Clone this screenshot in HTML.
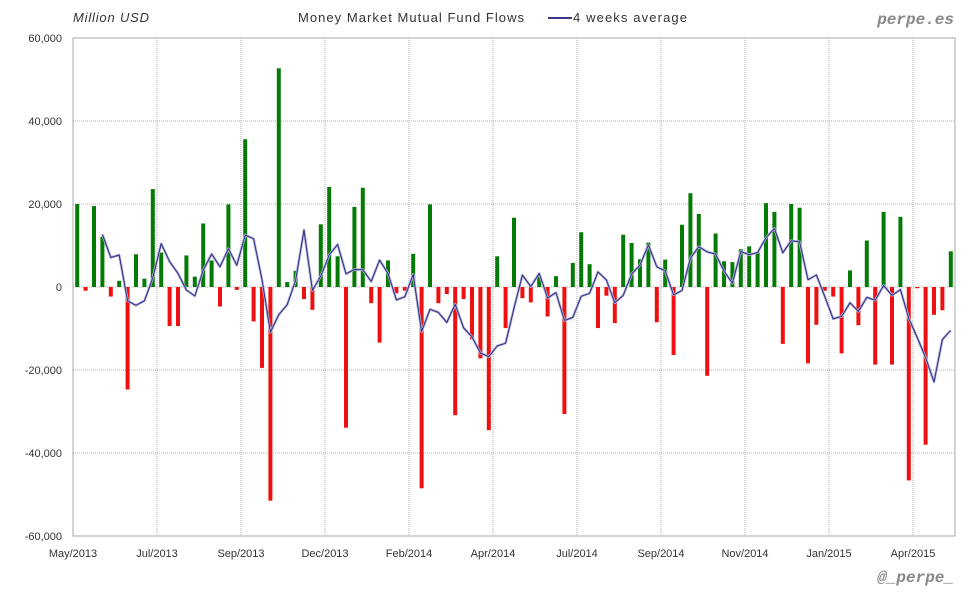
<!DOCTYPE html>
<html><head><meta charset="utf-8">
<style>
html,body{margin:0;padding:0;background:#fff;}
svg text{font-family:"Liberation Sans",sans-serif;}
</style></head>
<body>
<svg id="chart" width="980" height="600" xmlns="http://www.w3.org/2000/svg">
  <rect x="0" y="0" width="980" height="600" fill="#fff"/>
  <text x="73" y="22" font-size="13" font-style="italic" fill="#333" textLength="76">Million USD</text>
  <text x="298" y="22" font-size="13" fill="#333" textLength="226">Money Market Mutual Fund Flows</text>
  <g>
    <line x1="548" y1="18" x2="572" y2="18" stroke="#3a3a8c" stroke-width="2"/>
    <text x="573" y="22" font-size="13" fill="#333" textLength="114">4 weeks average</text>
  </g>
  <text x="954" y="24" text-anchor="end" font-size="16" font-weight="bold" font-style="italic" fill="#888" style="font-family:'Liberation Mono',monospace">perpe.es</text>
  <text x="954" y="582" text-anchor="end" font-size="16" font-weight="bold" font-style="italic" fill="#888" style="font-family:'Liberation Mono',monospace">@_perpe_</text>
  <g id="grid"></g>
  <g id="bars"></g>
  <g id="line"></g>
  <g id="axes"></g>
</svg>
<script>
const categories = Array.from({length:105},(_,i)=>"w"+(i+1));
const flows = [20000,-900,19500,12100,-2300,1500,-24700,7900,2000,23600,
8300,-9400,-9400,7600,2500,15300,6400,-4700,19900,-700,
35600,-8300,-19500,-51500,52700,1200,3900,-2900,-5500,15100,
24100,7400,-33900,19300,23900,-3900,-13400,6400,-1500,-900,
8000,-48500,19900,-3900,-1700,-30900,-2900,-12600,-17200,-34500,
7400,-9900,16700,-2700,-3700,2800,-7100,2600,-30600,5800,
13200,5500,-9900,-2100,-8700,12600,10600,6700,10700,-8500,
6600,-16400,15000,22600,17600,-21400,12900,6200,6000,9100,
9800,8400,20200,18100,-13700,20000,19100,-18400,-9100,-900,
-2300,-16000,4000,-9200,11200,-18700,18100,-18700,16900,-46600,
-300,-38000,-6700,-5600,8600];
const yTicks = [60000,40000,20000,0,-20000,-40000,-60000];
const yTickLabels = ["60,000","40,000","20,000","0","-20,000","-40,000","-60,000"];
const xTickIndex = [0,10,20,30,40,50,60,70,80,90,100];
const xTickLabels = ["May/2013","Jul/2013","Sep/2013","Dec/2013","Feb/2014","Apr/2014","Jul/2014","Sep/2014","Nov/2014","Jan/2015","Apr/2015"];

const NS="http://www.w3.org/2000/svg";
const L=73,R=955,T=38,B=536;
const slot=(R-L)/105;
function y(v){return T+(60000-v)/120000*(B-T);}
function xc(i){return L+slot*i+slot/2;}
function xe(i){return L+slot*i;}
function mk(tag,attrs,parent){const e=document.createElementNS(NS,tag);for(const k in attrs)e.setAttribute(k,attrs[k]);parent.appendChild(e);return e;}

const grid=document.getElementById('grid');
yTicks.forEach((v,k)=>{
  const ln=mk('line',{x1:L,x2:R,y1:y(v),y2:y(v),stroke:'#b0b0b0','stroke-dasharray':'1,1','stroke-width':1},grid);
  
  
  const t=mk('text',{x:62,y:y(v)+4,'text-anchor':'end','font-size':11,fill:'#333'},grid);
  t.textContent=yTickLabels[k];
  
  
});
xTickIndex.forEach((i,k)=>{
  const ln=mk('line',{x1:xe(i),x2:xe(i),y1:T,y2:B,stroke:'#b0b0b0','stroke-dasharray':'1,1','stroke-width':1},grid);
  
  
  const t=mk('text',{x:xe(i),y:557,'text-anchor':'middle','font-size':11,fill:'#333'},grid);
  t.textContent=xTickLabels[k];
  
  
});

const bars=document.getElementById('bars');
flows.forEach((v,i)=>{
  const y0=y(0),y1=y(v);
  const r=mk('rect',{x:xc(i)-2,y:Math.min(y0,y1),width:4,height:Math.max(1,Math.abs(y1-y0)),fill:v>=0?'#067a06':'#ee1111'},bars);
  
  
});

const avg=[];
for(let i=3;i<flows.length;i++){avg.push([i,(flows[i]+flows[i-1]+flows[i-2]+flows[i-3])/4]);}
const pts=avg.map(p=>xc(p[0]).toFixed(1)+','+y(p[1]).toFixed(1)).join(' ');
const lg=document.getElementById('line');
const halo=mk('polyline',{points:pts,fill:'none',stroke:'#b4b4dc','stroke-width':2.6,'stroke-linejoin':'round'},lg);


const pl=mk('polyline',{points:pts,fill:'none',stroke:'#2e2e80','stroke-width':1,'stroke-linejoin':'round'},lg);



const ax=document.getElementById('axes');
const fr=mk('rect',{x:L,y:T,width:R-L,height:B-T,fill:'none',stroke:'#aaa','stroke-width':1},ax);


</script>
</body></html>
